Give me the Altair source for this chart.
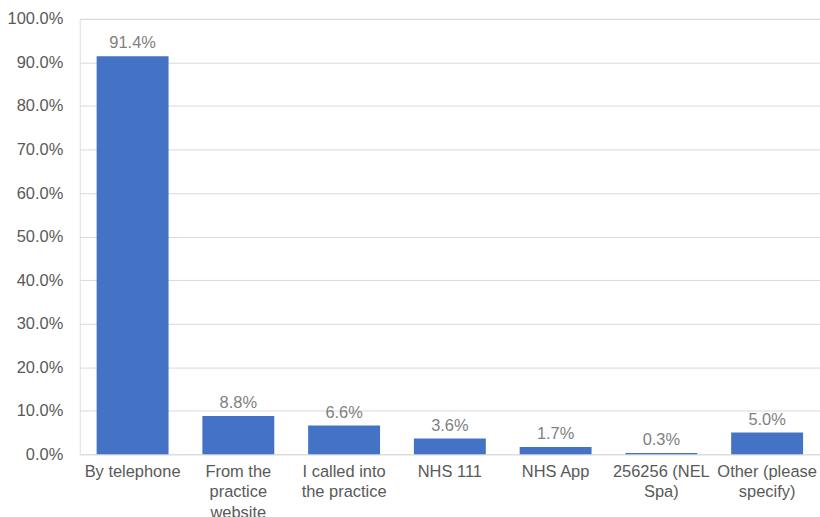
import altair as alt
import pandas as pd

categories = ["By telephone", "From the\npractice\nwebsite", "I called into\nthe practice",
              "NHS 111", "NHS App", "256256 (NEL\nSpa)", "Other (please\nspecify)"]
values = [0.914, 0.088, 0.066, 0.036, 0.017, 0.003, 0.050]
y_ticks = [0.0, 0.1, 0.2, 0.3, 0.4, 0.5, 0.6, 0.7, 0.8, 0.9, 1.0]

df = pd.DataFrame({"cat": categories, "val": values})

x = alt.X("cat:N", sort=categories, title=None,
          scale=alt.Scale(paddingInner=0.32, paddingOuter=0.16),
          axis=alt.Axis(labelExpr="split(datum.label, '\\n')", labelAngle=0,
                        labelFont="Liberation Sans", labelFontSize=16.5, labelColor="#595959",
                        labelLineHeight=20.5, labelPadding=9, ticks=False, domain=False,
                        labelLimit=200, labelBaseline="top", labelOverlap=False))
y = alt.Y("val:Q", title=None,
          scale=alt.Scale(domain=[0, 1]),
          axis=alt.Axis(format=".1%", values=y_ticks, labelOverlap=False,
                        labelFont="Liberation Sans", labelFontSize=16.5, labelColor="#595959",
                        labelPadding=17, ticks=False, domain=False,
                        gridColor="#d9d9d9", gridWidth=1))

bars = alt.Chart(df).mark_bar(color="#4472C4").encode(x=x, y=y)
text = alt.Chart(df).mark_text(baseline="bottom", dy=-5, font="Liberation Sans",
                               fontSize=16.5, color="#7f7f7f").encode(
    x=alt.X("cat:N", sort=categories), y="val:Q", text=alt.Text("val:Q", format=".1%"))

chart = (bars + text).properties(
    width=743, height=437,
    autosize=alt.AutoSizeParams(type="none"),
    padding={"left": 80, "top": 18, "right": 0, "bottom": 62},
).configure_view(stroke=None).configure(background="white")

chart.save("out.html", embed_options={"renderer": "svg", "actions": False})
